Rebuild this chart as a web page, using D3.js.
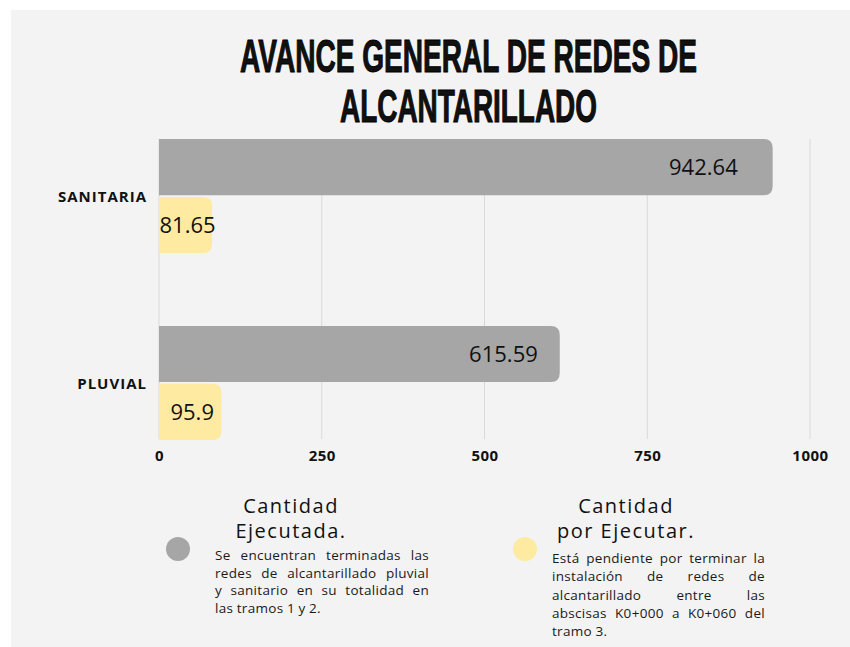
<!DOCTYPE html>
<meta charset="utf-8">
<style>
body { margin: 0; background: #fff; }
text { font-family: "Open Sans", sans-serif; fill: #111; }
.tick text, .cat { font-weight: bold; }
</style>
<svg width="850" height="647"></svg>
<script src="https://cdn.jsdelivr.net/npm/d3@7"></script>
<script>
// data
var categories = ["SANITARIA", "PLUVIAL"];
var series = ["Ejecutada", "Por ejecutar"];
var ejecutada = [942.64, 615.59];
var porEjecutar = [81.65, 95.9];
var xTicks = [0, 250, 500, 750, 1000];
var titleLines = ["AVANCE GENERAL DE REDES DE", "ALCANTARILLADO"];
var legendTitles = [["Cantidad", "Ejecutada."], ["Cantidad", "por Ejecutar."]];
var legendTexts = [
  ["Se encuentran terminadas las", "redes de alcantarillado pluvial", "y sanitario en su totalidad en", "las tramos 1 y 2."],
  ["Está pendiente por terminar la", "instalación de redes de", "alcantarillado entre las", "abscisas K0+000 a K0+060 del", "tramo 3."]
];
var colors = ["#a6a6a6", "#ffeaa1"];

var svg = d3.select("svg");

svg.append("rect")
  .attr("x", 11).attr("y", 10)
  .attr("width", 839).attr("height", 637)
  .attr("fill", "#f3f3f3");

// title (narrow bold font squeezed to the width of the original)
var titleWidths = [457, 257];
titleLines.forEach(function(t, i) {
  var tt = svg.append("text")
    .attr("text-anchor", "middle")
    .style("font-family", "'Liberation Sans Narrow', sans-serif")
    .style("font-weight", "bold")
    .style("font-size", "46px")
    .style("stroke", "#000")
    .style("stroke-width", "1px")
    .text(t);
  var sx = titleWidths[i] / tt.node().getComputedTextLength();
  tt.attr("transform", "translate(468.5," + (72 + i * 50) + ") scale(" + sx + ",1)");
});

var x = d3.scaleLinear().domain([0, 1000]).range([159, 810]);
var y0 = d3.scaleBand().domain(categories).range([139, 440]).paddingInner(0.39).paddingOuter(0);
var y1 = d3.scaleBand().domain(series).range([0, y0.bandwidth()]).paddingInner(0.03);

// grid
svg.append("g")
  .selectAll("line")
  .data(xTicks)
  .enter().append("line")
  .attr("x1", d => x(d)).attr("x2", d => x(d))
  .attr("y1", 139).attr("y2", 439)
  .attr("stroke", "#d9d9d9")
  .attr("stroke-width", 1);

var xAxis = svg.append("g")
  .attr("transform", "translate(0,450)")
  .call(d3.axisBottom(x).tickValues(xTicks).tickFormat(d3.format("d")).tickSize(0).tickPadding(0));
xAxis.select(".domain").remove();
xAxis.selectAll("text")
  .attr("dy", "0.71em")
  .style("font-size", "15px")
  .style("letter-spacing", "0.5px")
  .style("font-family", "'Open Sans', sans-serif")
  .attr("fill", "#111");

// bars with rounded right end
function barPath(x0, x1, yt, h, r) {
  r = Math.min(r, (x1 - x0));
  return "M" + x0 + "," + yt +
    "H" + (x1 - r) +
    "Q" + x1 + "," + yt + " " + x1 + "," + (yt + r) +
    "V" + (yt + h - r) +
    "Q" + x1 + "," + (yt + h) + " " + (x1 - r) + "," + (yt + h) +
    "H" + x0 + "Z";
}

var rows = categories.map(function(c, i) {
  return { cat: c, vals: [ejecutada[i], porEjecutar[i]] };
});

var groups = svg.selectAll(".grp")
  .data(rows)
  .enter().append("g")
  .attr("class", "grp")
  .attr("transform", d => "translate(0," + y0(d.cat) + ")");

groups.selectAll("path")
  .data(d => d.vals.map((v, j) => ({ s: series[j], v: v, j: j })))
  .enter().append("path")
  .attr("d", d => barPath(x(0), x(d.v), y1(d.s), y1.bandwidth(), 9))
  .attr("fill", d => colors[d.j]);

groups.selectAll(".val")
  .data(d => d.vals.map((v, j) => ({ s: series[j], v: v, j: j })))
  .enter().append("text")
  .attr("class", "val")
  .attr("x", function(d) {
    var w = x(d.v) - x(0);
    return d.j == 0 ? x(d.v) - (0.061 * w - 2.5) : (x(0) + x(d.v)) / 2 + 2;
  })
  .attr("y", d => y1(d.s) + y1.bandwidth() / 2 + 8)
  .attr("text-anchor", d => d.j == 0 ? "end" : "middle")
  .style("font-size", "22px")
  .text(d => d.v);

groups.append("text")
  .attr("class", "cat")
  .attr("x", 147)
  .attr("y", y0.bandwidth() / 2 + 6)
  .attr("text-anchor", "end")
  .style("font-size", "15px")
  .style("letter-spacing", "1px")
  .text(d => d.cat);

// legend
var legendX = [291, 626];
var circleX = [178, 525];
var textX = [215, 552];
var textW = [214, 213];
var textY0 = [560, 563];
var textLH = [17.7, 18.3];

function justify(g, lines, x0, w, yStart, lh) {
  lines.forEach(function(line, i) {
    var words = line.split(" ");
    var last = i == lines.length - 1;
    var ws = [];
    var nodes = words.map(function(wd) {
      var t = g.append("text")
        .attr("y", yStart + i * lh)
        .style("font-size", "13.5px")
        .style("letter-spacing", "0.3px")
        .style("fill", "#1a1a1a")
        .text(wd);
      ws.push(t.node().getComputedTextLength());
      return t;
    });
    var total = d3.sum(ws);
    var gap = (last || words.length < 2) ? 3.5 : (w - total) / (words.length - 1);
    var cx = x0;
    nodes.forEach(function(t, k) {
      t.attr("x", cx);
      cx += ws[k] + gap;
    });
  });
}

legendTitles.forEach(function(lines, i) {
  var g = svg.append("g");
  g.append("circle")
    .attr("cx", circleX[i]).attr("cy", 549).attr("r", 12)
    .attr("fill", colors[i]);
  g.append("text")
    .attr("text-anchor", "middle")
    .style("font-size", "20px")
    .style("letter-spacing", "1.5px")
    .selectAll("tspan")
    .data(lines)
    .enter().append("tspan")
    .attr("x", legendX[i])
    .attr("y", (d, k) => 512.5 + k * 25)
    .text(d => d);
  justify(g, legendTexts[i], textX[i], textW[i], textY0[i], textLH[i]);
});
</script>
